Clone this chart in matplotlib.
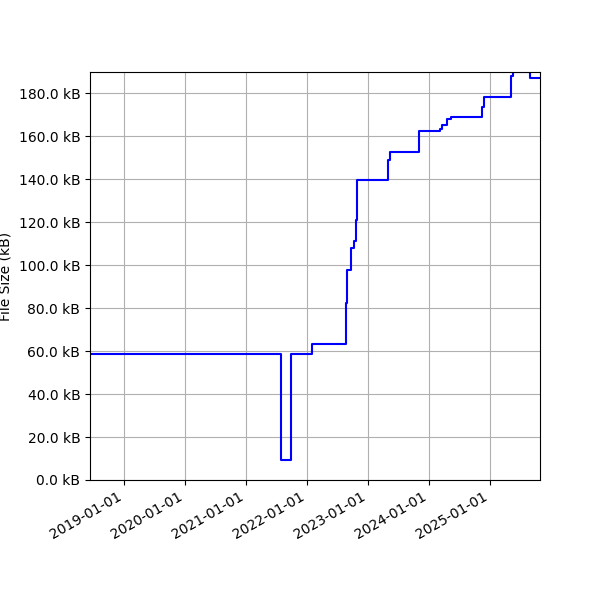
import pandas as pd
import matplotlib
matplotlib.use('Agg')
import matplotlib.pyplot as plt
import matplotlib.dates as mdates
from matplotlib.ticker import FuncFormatter, MultipleLocator

# commit dates and file size (kB) after each commit
dates = ['2018-06-10', '2021-07-27', '2021-09-23', '2022-02-01', '2022-08-22',
         '2022-08-27', '2022-09-23', '2022-10-07', '2022-10-22', '2022-10-29',
         '2023-05-02', '2023-05-13', '2023-10-31', '2024-03-04', '2024-03-20',
         '2024-04-19', '2024-05-13', '2024-11-15', '2024-11-24', '2025-05-07',
         '2025-05-17', '2025-08-25', '2025-10-26']
sizes = [58.8, 9.5, 58.8, 63.5, 82.5,
         97.6, 108.2, 111.1, 121.0, 139.6,
         148.8, 152.8, 162.3, 163.4, 165.2,
         167.9, 169.2, 173.7, 178.5, 188.0,
         190.0, 187.3, 187.3]

df = pd.DataFrame({'date': pd.to_datetime(dates), 'size': sizes})

fig, ax = plt.subplots(figsize=(6, 6), dpi=100)
ax.plot(df['date'], df['size'], color='blue', drawstyle='steps-post', linewidth=1.5)

ax.set_ylabel('File Size (kB)')
ax.yaxis.set_major_locator(MultipleLocator(20))
ax.yaxis.set_major_formatter(FuncFormatter(lambda v, p: '{:.1f} kB'.format(v)))
ax.xaxis.set_major_locator(mdates.YearLocator())
ax.xaxis.set_major_formatter(mdates.DateFormatter('%Y-%m-%d'))
ax.set_xlim(df['date'].min(), df['date'].max())
ax.set_ylim(0, max(sizes))
ax.grid(True)
fig.autofmt_xdate()
fig.subplots_adjust(left=0.15, right=0.9, top=0.88, bottom=0.2)

fig.savefig('out.png')
